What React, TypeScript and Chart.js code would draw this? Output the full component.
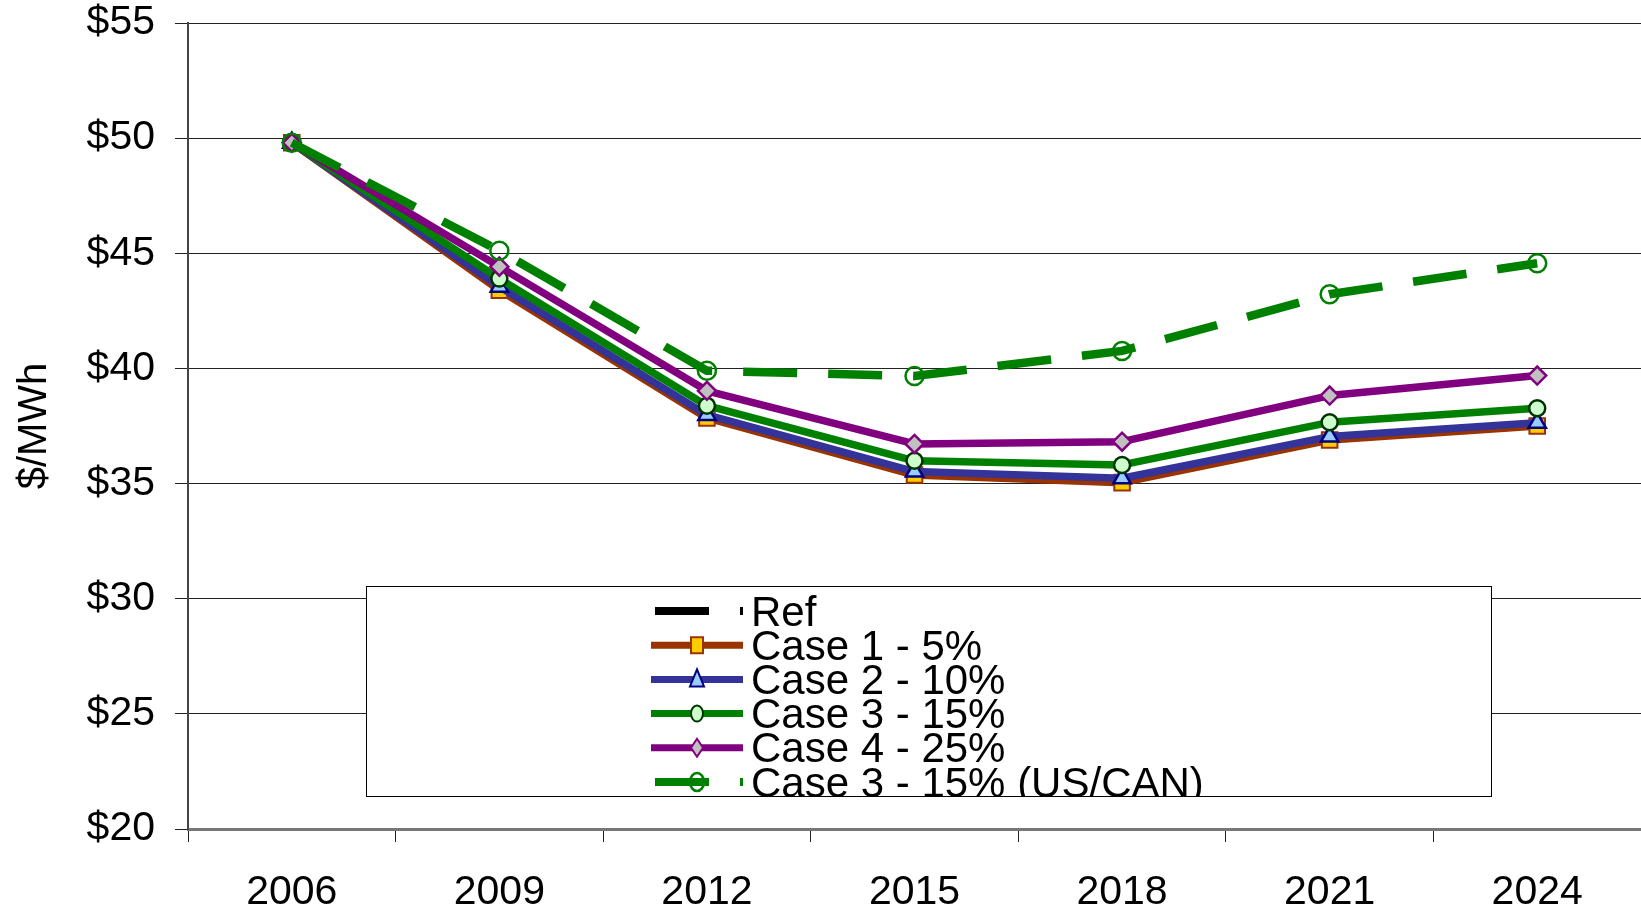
import React, { useEffect, useRef } from 'react';
import { Chart, registerables } from 'chart.js';

Chart.register(...registerables);

const years = ['2006', '2009', '2012', '2015', '2018', '2021', '2024'];
const refValues = [49.8, 43.4, 37.85, 35.37, 35.04, 36.89, 37.5];
const case1Values = [49.8, 43.4, 37.85, 35.37, 35.04, 36.89, 37.5];
const case2Values = [49.8, 43.55, 37.98, 35.52, 35.23, 37.04, 37.64];
const case3Values = [49.8, 43.9, 38.38, 35.99, 35.81, 37.66, 38.27];
const case4Values = [49.8, 44.42, 39.03, 36.72, 36.82, 38.82, 39.69];
const usCanValues = [49.8, 45.11, 39.9, 39.67, 40.76, 43.22, 44.57];
const yMin = 20;
const yMax = 55;
const yStep = 5;

const FONT = '"Liberation Sans", Arial, sans-serif';

type LegendItem = {
  label: string;
  color: string;
  dash: boolean;
  marker: string | null;
  fill: string;
  stroke: string;
};

const legendItems: LegendItem[] = [
  { label: 'Ref', color: '#000000', dash: true, marker: null, fill: '', stroke: '' },
  { label: 'Case 1 - 5%', color: '#993300', dash: false, marker: 'square', fill: '#FFCC00', stroke: '#993300' },
  { label: 'Case 2 - 10%', color: '#333399', dash: false, marker: 'triangle', fill: '#99CCFF', stroke: '#000080' },
  { label: 'Case 3 - 15%', color: '#008000', dash: false, marker: 'circle', fill: '#CCFFCC', stroke: '#003300' },
  { label: 'Case 4 - 25%', color: '#800080', dash: false, marker: 'diamond', fill: '#C0C0C0', stroke: '#800080' },
  { label: 'Case 3 - 15% (US/CAN)', color: '#008000', dash: true, marker: 'opencircle', fill: 'rgba(0,0,0,0)', stroke: '#008000' },
];

const boxLegend = {
  id: 'boxLegend',
  afterDraw(chart: any) {
    const ctx: CanvasRenderingContext2D = chart.ctx;
    const bx = 366, by = 586, bw = 1125, bh = 210;
    ctx.save();
    ctx.fillStyle = '#ffffff';
    ctx.fillRect(bx, by, bw, bh);
    ctx.strokeStyle = '#000000';
    ctx.lineWidth = 1;
    ctx.strokeRect(bx + 0.5, by + 0.5, bw, bh);
    ctx.beginPath();
    ctx.rect(bx + 1, by + 1, bw - 1, bh - 1);
    ctx.clip();
    const x0 = 651, x1 = 743, mx = 697, tx = 751;
    legendItems.forEach((it, i) => {
      const y = 611 + i * 34.2;
      ctx.save();
      ctx.strokeStyle = it.color;
      ctx.lineCap = 'butt';
      if (it.dash) {
        ctx.lineWidth = 8;
        ctx.setLineDash([54, 31]);
        ctx.beginPath();
        ctx.moveTo(x0 + 4, y);
        ctx.lineTo(x1, y);
        ctx.stroke();
      } else {
        ctx.lineWidth = 7;
        ctx.beginPath();
        ctx.moveTo(x0, y);
        ctx.lineTo(x1, y);
        ctx.stroke();
      }
      ctx.setLineDash([]);
      if (it.marker) {
        ctx.fillStyle = it.fill;
        ctx.strokeStyle = it.stroke;
        ctx.lineWidth = 2;
        ctx.beginPath();
        if (it.marker === 'square') {
          ctx.rect(mx - 6, y - 8, 12, 16);
        } else if (it.marker === 'triangle') {
          ctx.moveTo(mx, y - 10);
          ctx.lineTo(mx + 7, y + 7);
          ctx.lineTo(mx - 7, y + 7);
          ctx.closePath();
        } else if (it.marker === 'circle') {
          ctx.ellipse(mx, y, 6, 8, 0, 0, Math.PI * 2);
        } else if (it.marker === 'diamond') {
          ctx.moveTo(mx, y - 9);
          ctx.lineTo(mx + 6, y);
          ctx.lineTo(mx, y + 9);
          ctx.lineTo(mx - 6, y);
          ctx.closePath();
        } else if (it.marker === 'opencircle') {
          ctx.lineWidth = 2.5;
          ctx.ellipse(mx, y, 7, 9, 0, 0, Math.PI * 2);
        }
        ctx.fill();
        ctx.stroke();
      }
      ctx.fillStyle = '#000000';
      ctx.font = `42px ${FONT}`;
      ctx.textBaseline = 'middle';
      ctx.textAlign = 'left';
      ctx.fillText(it.label, tx, y + 3);
      ctx.restore();
    });
    ctx.restore();
  },
};

const noPad = (s: any) => {
  s.paddingTop = 0;
  s.paddingBottom = 0;
  s.paddingLeft = 0;
  s.paddingRight = 0;
};

export default function App() {
  const ref = useRef<HTMLCanvasElement>(null);
  useEffect(() => {
    document.body.style.margin = '0';
    const canvas = ref.current!;
    const chart = new Chart(canvas, {
      type: 'line',
      data: {
        labels: years,
        datasets: [
          {
            label: 'Ref', data: refValues, borderColor: '#000000', borderWidth: 4,
            borderDash: [54, 31], pointRadius: 0, order: 6, borderCapStyle: 'butt',
          },
          {
            label: 'Case 1 - 5%', data: case1Values, borderColor: '#993300', borderWidth: 7.5,
            pointStyle: 'rect', pointRadius: 11, pointBackgroundColor: '#FFCC00',
            pointBorderColor: '#993300', pointBorderWidth: 2, order: 5, borderJoinStyle: 'round',
          },
          {
            label: 'Case 2 - 10%', data: case2Values, borderColor: '#333399', borderWidth: 7.5,
            pointStyle: 'triangle', pointRadius: 10, pointBackgroundColor: '#99CCFF',
            pointBorderColor: '#000080', pointBorderWidth: 2.5, order: 4, borderJoinStyle: 'round',
          },
          {
            label: 'Case 3 - 15%', data: case3Values, borderColor: '#008000', borderWidth: 7.5,
            pointStyle: 'circle', pointRadius: 8, pointBackgroundColor: '#CCFFCC',
            pointBorderColor: '#003300', pointBorderWidth: 2.5, order: 3, borderJoinStyle: 'round',
          },
          {
            label: 'Case 4 - 25%', data: case4Values, borderColor: '#800080', borderWidth: 7.5,
            pointStyle: 'rectRot', pointRadius: 9, pointBackgroundColor: '#C0C0C0',
            pointBorderColor: '#800080', pointBorderWidth: 2.5, order: 2, borderJoinStyle: 'round',
          },
          {
            label: 'Case 3 - 15% (US/CAN)', data: usCanValues, borderColor: '#008000', borderWidth: 8.5,
            borderDash: [54, 31], borderCapStyle: 'butt',
            pointStyle: 'circle', pointRadius: 9, pointBackgroundColor: 'rgba(0,0,0,0)',
            pointBorderColor: '#008000', pointBorderWidth: 2.5, order: 1,
          },
        ],
      },
      options: {
        responsive: false,
        animation: false,
        devicePixelRatio: 1,
        layout: { autoPadding: false, padding: { top: 23, right: 0, left: 0, bottom: 0 } },
        plugins: { legend: { display: false }, tooltip: { enabled: false } },
        scales: {
          x: {
            offset: true,
            grid: { offset: true, drawOnChartArea: false, drawTicks: true, tickLength: 13, color: '#222', lineWidth: 1 },
            border: { display: true, color: '#777', width: 3 },
            ticks: { color: '#000', font: { family: FONT, size: 41 }, padding: 26, maxRotation: 0, autoSkip: false },
            afterFit: (s: any) => { s.height = 80; noPad(s); },
          },
          y: {
            min: yMin,
            max: yMax,
            grid: { color: '#222', lineWidth: 1, tickLength: 13 },
            border: { display: true, color: '#444', width: 2 },
            ticks: {
              stepSize: yStep, color: '#000', font: { family: FONT, size: 41 }, padding: 20,
              callback: (v: any) => '$' + v,
            },
            title: {
              display: true, text: '$/MWh', color: '#000',
              font: { family: FONT, size: 40 }, padding: { top: 11, bottom: 0 },
            },
            afterFit: (s: any) => { s.width = 188; noPad(s); },
          },
        },
      },
      plugins: [boxLegend],
    });
    return () => chart.destroy();
  }, []);
  return (
    <div style={{ position: 'fixed', left: 0, top: 0, width: 1641, height: 909, background: '#fff' }}>
      <canvas ref={ref} width={1641} height={909} />
    </div>
  );
}
